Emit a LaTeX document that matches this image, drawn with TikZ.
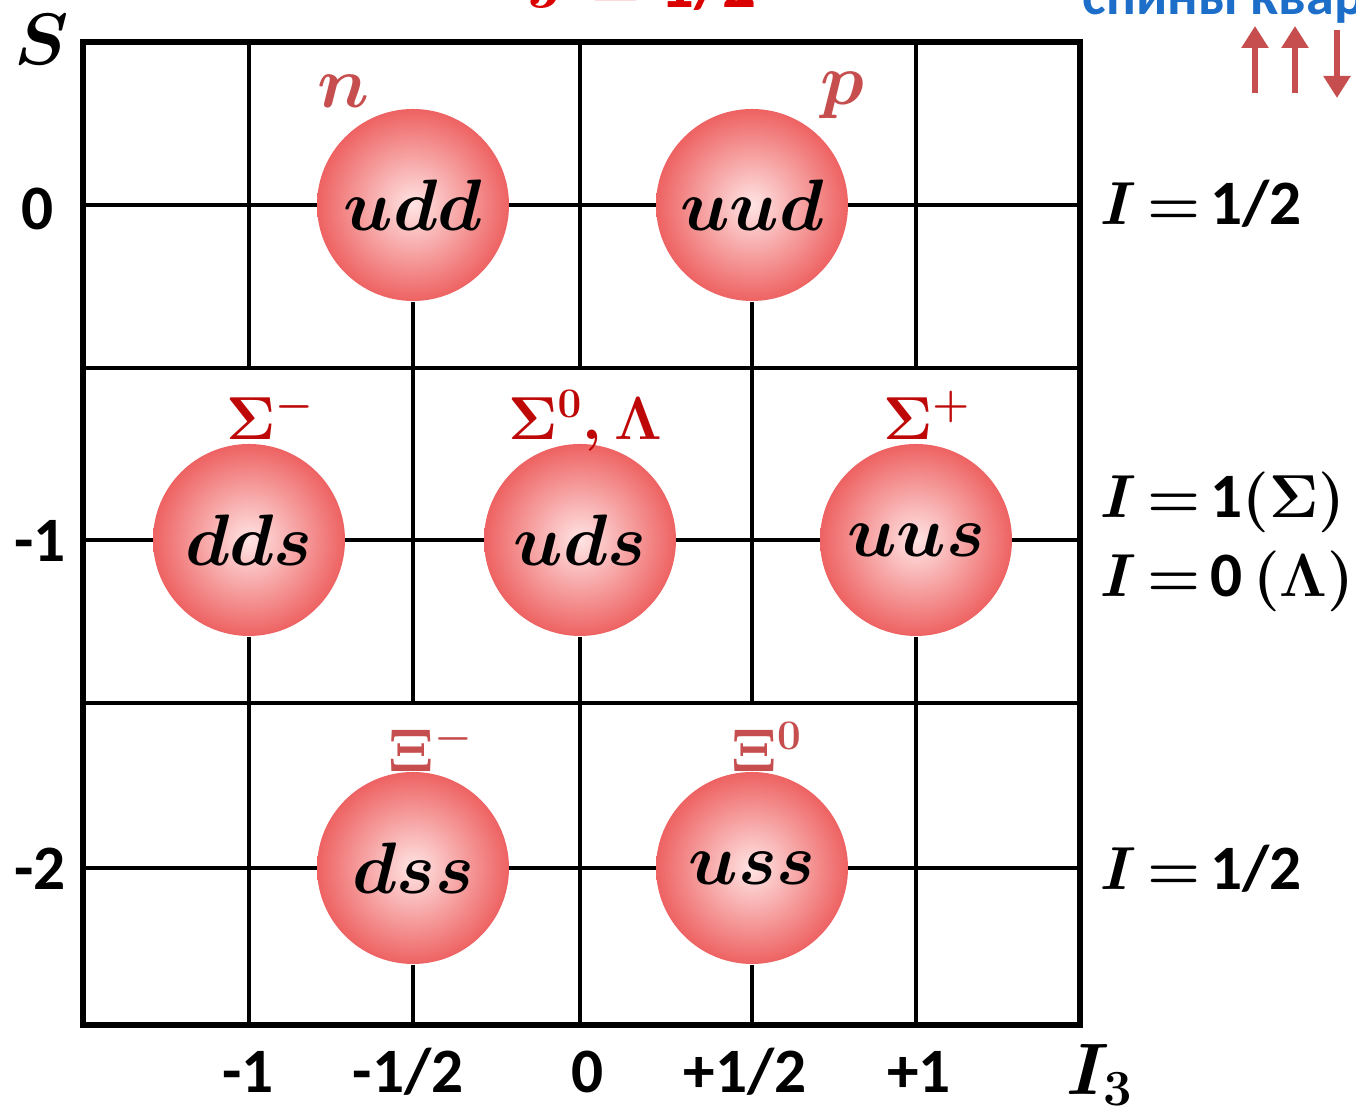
\documentclass[tikz,border=0pt]{standalone}
\usepackage{amsmath}
\usepackage{fontspec}
\setmainfont{Carlito}
\usepackage{bm}
\usetikzlibrary{arrows.meta}
\definecolor{ballpale}{RGB}{255,228,228}
\definecolor{ballred}{RGB}{238,98,98}
\definecolor{dullred}{RGB}{198,78,78}
\definecolor{deepred}{RGB}{190,8,8}
\definecolor{jred}{RGB}{218,0,0}
\definecolor{spinblue}{RGB}{28,110,200}

\begin{document}
\begin{tikzpicture}[
    gline/.style={line width=1.2pt},
    ball/.style={circle, minimum size=1.92cm, inner sep=0pt,
      inner color=ballpale, outer color=ballred,
      font=\boldmath\fontsize{20}{24}\selectfont},
    lab/.style={anchor=base, inner sep=0pt,
      font=\bfseries\boldmath\fontsize{18}{22}\selectfont},
    big/.style={font=\bfseries\boldmath\fontsize{19}{22}\selectfont},
    spin/.style={dullred, line width=1.6pt,
      -{Triangle[width=0.26cm,length=0.22cm]}}]
  \useasboundingbox (0,0) rectangle (13.56,11.15);
  % the grid, row by row
  \foreach \y in {9.10,7.47,5.75,4.12,2.47}
    \draw[gline] (0.83,\y) -- (10.80,\y);
  \foreach \x in {2.49,5.80,9.16} {
    \draw[gline] (\x,7.47) -- (\x,10.73);
    \draw[gline] (\x,0.90) -- (\x,4.12);
  }
  \foreach \x in {4.13,7.52}
    \draw[gline] (\x,4.12) -- (\x,7.47);
  \draw[line width=1.8pt] (0.83,0.90) rectangle (10.80,10.73);

  \newcommand{\baryon}[3]{\node[ball] (#1) at (#2) {$\bm{#1}$};
    \draw[gline] (#1.south) -- (#1.south |- 0,#3);}
  \baryon{udd}{4.13,9.10}{7.47}
  \baryon{uud}{7.52,9.10}{7.47}
  \baryon{dds}{2.49,5.75}{4.12}
  \baryon{uds}{5.80,5.75}{4.12}
  \baryon{uus}{9.16,5.75}{4.12}
  \baryon{dss}{4.13,2.47}{0.90}
  \baryon{uss}{7.52,2.47}{0.90}

  \node[lab, dullred, font=\boldmath\fontsize{21}{24}\selectfont] (nname) at (3.43,10.07) {$n$};
  \node[lab, dullred, font=\boldmath\fontsize{21}{24}\selectfont] (pname) at (8.42,10.10) {$p$};
  \node[lab, deepred] (sigm) at (2.71,6.75) {$\Sigma^{-}$};
  \node[lab, deepred] (sigz) at (5.85,6.75) {$\Sigma^{0},\Lambda$};
  \node[lab, deepred] (sigp) at (9.27,6.75) {$\Sigma^{+}$};
  \node[lab, dullred] (xim) at (4.31,3.43) {$\Xi^{-}$};
  \node[lab, dullred] (xiz) at (7.67,3.43) {$\Xi^{0}$};

  % axes
  \node[lab, font=\boldmath\fontsize{21}{24}\selectfont] (Saxis) at (0.42,10.50) {$S$};
  \node[lab] (s0) at (0.38,8.85) {0};
  \node[lab] (s1) at (0.40,5.53) {-1};
  \node[lab] (s2) at (0.40,2.25) {-2};
  \node[lab] (tm1) at (2.48,0.22) {-1};
  \node[lab] (tmh) at (4.08,0.22) {-1/2};
  \node[lab] (t0) at (5.88,0.22) {0};
  \node[lab] (tph) at (7.45,0.22) {+1/2};
  \node[lab] (tp1) at (9.19,0.22) {+1};
  \node[lab, anchor=base west, font=\boldmath\fontsize{21}{24}\selectfont] (Ithree) at (10.66,0.20) {$I_{3}$};

  % isospin
  \newcommand{\isoeq}{$I$\kern3pt$=$\kern3pt}
  \node[lab, anchor=base west] (iso1) at (11.00,8.90) {\isoeq 1/2};
  \node[lab, anchor=base west] (iso2) at (11.00,5.97) {\isoeq 1$(\Sigma)$};
  \node[lab, anchor=base west] (iso3) at (11.00,5.18) {\isoeq 0\kern3pt$(\Lambda)$};
  \node[lab, anchor=base west] (iso4) at (11.00,2.25) {\isoeq 1/2};

  % top: cut by the page edge
  \node[lab, big, jred] (jspin) at (6.42,11.07) {$J$\kern5pt$=$\kern5pt1/2};
  \node[lab, anchor=base west, spinblue, font=\bfseries\fontsize{16}{20}\selectfont] (spins) at (10.82,11.00) {спины кварков};
  \coordinate (u1a) at (12.55,10.22); \coordinate (u1b) at (12.55,10.89);
  \coordinate (u2a) at (12.95,10.22); \coordinate (u2b) at (12.95,10.89);
  \coordinate (d3a) at (13.37,10.85); \coordinate (d3b) at (13.37,10.17);
  \draw[spin] (u1a) -- (u1b);
  \draw[spin] (u2a) -- (u2b);
  \draw[spin] (d3a) -- (d3b);
\end{tikzpicture}
\end{document}
